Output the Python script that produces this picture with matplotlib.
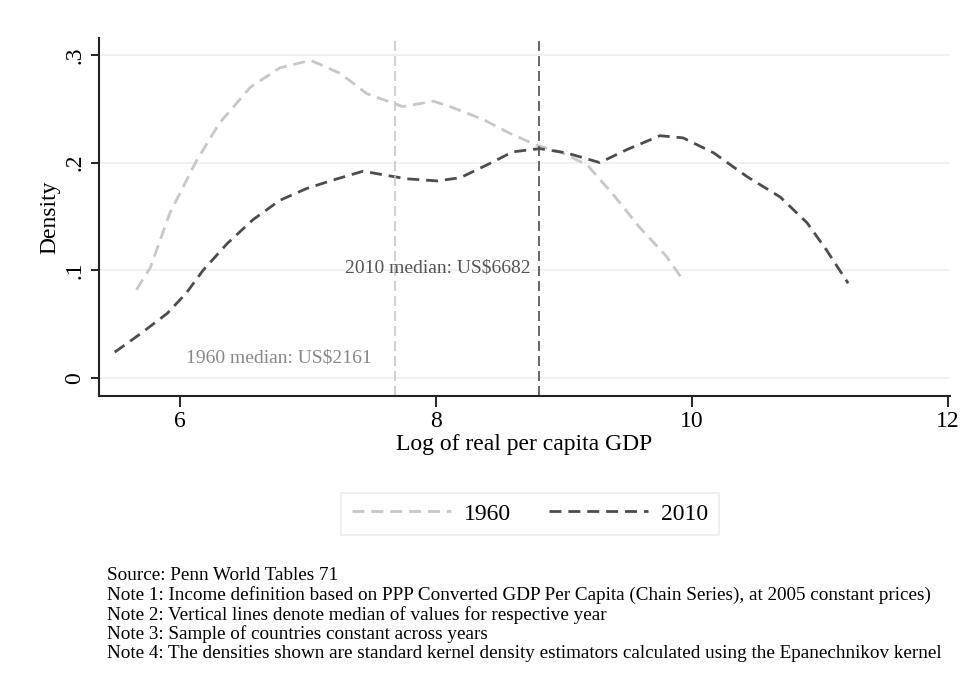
import numpy as np
import matplotlib.pyplot as plt

plt.rcParams['font.family'] = ['Liberation Serif', 'DejaVu Serif']

# density curves
x_1960 = [5.66, 5.77, 5.92, 6.13, 6.31, 6.55, 6.78, 7.02, 7.25, 7.46, 7.67, 7.74,
          7.98, 8.11, 8.37, 8.58, 8.79, 8.97, 9.18, 9.38, 9.59, 9.80, 9.93]
d_1960 = [0.082, 0.103, 0.153, 0.202, 0.237, 0.270, 0.288, 0.295, 0.283, 0.264, 0.255, 0.252,
          0.257, 0.252, 0.240, 0.227, 0.216, 0.210, 0.198, 0.171, 0.140, 0.113, 0.091]

x_2010 = [5.49, 5.69, 5.90, 6.05, 6.18, 6.37, 6.57, 6.78, 6.99, 7.20, 7.43, 7.67, 7.77,
          8.01, 8.19, 8.40, 8.60, 8.81, 9.02, 9.28, 9.49, 9.75, 9.93, 10.17, 10.43,
          10.69, 10.90, 11.05, 11.22]
d_2010 = [0.024, 0.041, 0.060, 0.079, 0.100, 0.125, 0.147, 0.165, 0.176, 0.184, 0.192, 0.187, 0.185,
          0.183, 0.186, 0.198, 0.210, 0.213, 0.209, 0.200, 0.212, 0.225, 0.223, 0.209, 0.187,
          0.168, 0.144, 0.119, 0.088]

median_1960 = 2161
median_2010 = 6682

xticks = [6, 8, 10, 12]
yticks = [0, 0.1, 0.2, 0.3]
yticklabels = ['0', '.1', '.2', '.3']

notes = ['Source: Penn World Tables 71',
         'Note 1: Income definition based on PPP Converted GDP Per Capita (Chain Series), at 2005 constant prices)',
         'Note 2: Vertical lines denote median of values for respective year',
         'Note 3: Sample of countries constant across years',
         'Note 4: The densities shown are standard kernel density estimators calculated using the Epanechnikov kernel']

light = '#c8c8c8'
dark = '#4d4d4d'

fig = plt.figure(figsize=(9.79, 6.96), dpi=100)
ax = fig.add_axes([0.1011, 0.431, 0.8693, 0.5144])

for y in yticks:
    ax.axhline(y, color='#efefef', lw=1.2, zorder=0)

l1, = ax.plot(x_1960, d_1960, color=light, lw=2, dashes=(4.3, 2.5), label='1960')
l2, = ax.plot(x_2010, d_2010, color=dark, lw=2, dashes=(4.3, 2.5), label='2010')

ax.axvline(np.log(median_1960), color=light, lw=1.2, dashes=(6, 3))
ax.axvline(np.log(median_2010), color=dark, lw=1.2, dashes=(6, 3))

ax.text(np.log(median_2010) - 0.07, 0.102, r'2010 median: US\$%d' % median_2010,
        ha='right', va='center', fontsize=14, color='#555555')
ax.text(np.log(median_1960) - 0.18, 0.019, r'1960 median: US\$%d' % median_1960,
        ha='right', va='center', fontsize=14, color='#888888')

ax.set_xlim(5.367, 12.016)
ax.set_ylim(-0.0167, 0.3157)
ax.set_xticks(xticks)
ax.set_xticklabels([str(t) for t in xticks], fontsize=17)
ax.set_yticks(yticks)
ax.set_yticklabels(yticklabels, fontsize=17, rotation=90, va='center')
ax.tick_params(axis='x', length=8, width=1.2, pad=3)
ax.tick_params(axis='y', length=6, width=1.2, pad=4)
for s in ['top', 'right']:
    ax.spines[s].set_visible(False)
for s in ['left', 'bottom']:
    ax.spines[s].set_linewidth(1.5)
    ax.spines[s].set_color('#222222')

ax.set_xlabel('Log of real per capita GDP', fontsize=17, labelpad=1)
ax.set_ylabel('Density', fontsize=17, labelpad=3)

leg = fig.legend(handles=[l1, l2], loc='center', bbox_to_anchor=(0.5414, 0.2615), ncol=2,
                 fontsize=17, frameon=True, fancybox=False, handlelength=4.2,
                 columnspacing=1.6, handletextpad=0.55, borderpad=0.45, borderaxespad=0)
leg.get_frame().set_edgecolor('#e6e6e6')
leg.get_frame().set_linewidth(1.2)

for i, line in enumerate(notes):
    fig.text(107 / 979, 1 - (576 + 19.3 * i) / 696, line, ha='left', va='center', fontsize=13.8)

fig.savefig('out.png', dpi=100)
